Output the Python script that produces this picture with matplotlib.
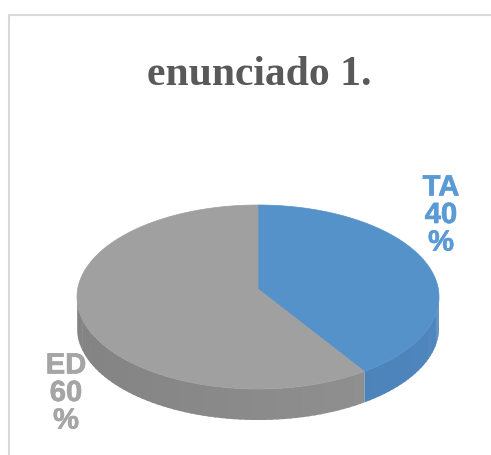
import matplotlib.pyplot as plt
import matplotlib.colors as mcolors
import matplotlib.patheffects as pe
import numpy as np
from matplotlib.patches import Polygon

# chart data
categories = ['TA', 'ED']
values = [40, 60]
top_colors = ['#5592CA', '#A0A0A0']
side_colors = ['#4E86BD', '#929292']
label_colors = ['#5B9BD5', '#A5A5A5']
title = 'enunciado 1.'

# geometry of the fake 3d pie, in pixels
cx, cy = 258, 297
rx, ry = 181, 92
depth = 31
apex = (258, 289)


def rim(t, dy=0):
    t = np.radians(t)
    return cx + rx * np.cos(t), cy - ry * np.sin(t) + dy


fig = plt.figure(figsize=(4.91, 4.55), dpi=100)
ax = fig.add_axes([0, 0, 1, 1])
ax.set_xlim(0, 491)
ax.set_ylim(455, 0)
ax.axis('off')

# wedge angle ranges, clockwise from 12 o'clock
total = sum(values)
starts, ends = [], []
a = 90.0
for v in values:
    starts.append(a)
    a -= 360.0 * v / total
    ends.append(a)

# side walls (only the front half shows), shaded with thin strips
for i in range(len(values)):
    lo, hi = min(starts[i], ends[i]), max(starts[i], ends[i])
    base = np.array(mcolors.to_rgb(side_colors[i]))
    for off in (0, 360, -360):
        a0 = max(lo + off, -180)
        a1 = min(hi + off, 0)
        if a1 <= a0:
            continue
        n = max(int((a1 - a0) / 2), 2)
        ts = np.linspace(a0, a1, n + 1)
        for k in range(n):
            tm = 0.5 * (ts[k] + ts[k + 1])
            # a bit darker toward the left edge
            shade = 0.9 + 0.1 * (np.cos(np.radians(tm)) + 1) / 2
            col = np.clip(base * shade, 0, 1)
            seg = np.linspace(ts[k], min(ts[k + 1] + 0.6, a1), 4)
            top = [rim(t) for t in seg]
            bot = [rim(t, depth) for t in seg[::-1]]
            ax.add_patch(Polygon(top + bot, closed=True, facecolor=col,
                                 edgecolor='none'))

# top faces
for i in range(len(values)):
    ts = np.linspace(starts[i], ends[i], 200)
    pts = [apex] + [rim(t) for t in ts]
    ax.add_patch(Polygon(pts, closed=True, facecolor=top_colors[i],
                         edgecolor=top_colors[i], lw=0.5))

# data labels
label_pos = [(441, 215), (66, 393)]
for i in range(len(values)):
    ax.text(label_pos[i][0], label_pos[i][1],
            f'{categories[i]}\n{values[i]}\n%',
            ha='center', va='center', fontsize=21, fontweight='bold',
            family=['Liberation Sans', 'DejaVu Sans'], color=label_colors[i],
            linespacing=0.98,
            path_effects=[pe.withStroke(linewidth=0.5,
                                        foreground=label_colors[i])])

ax.text(259, 75, title, ha='center', va='center', fontsize=30,
        fontweight='bold', family='Liberation Serif', color='#595959')

# chart border (left and top only are visible)
ax.plot([9, 9, 491], [455, 15, 15], color='#D9D9D9', lw=1.5,
        solid_joinstyle='miter')

fig.savefig('out.png', dpi=100)
